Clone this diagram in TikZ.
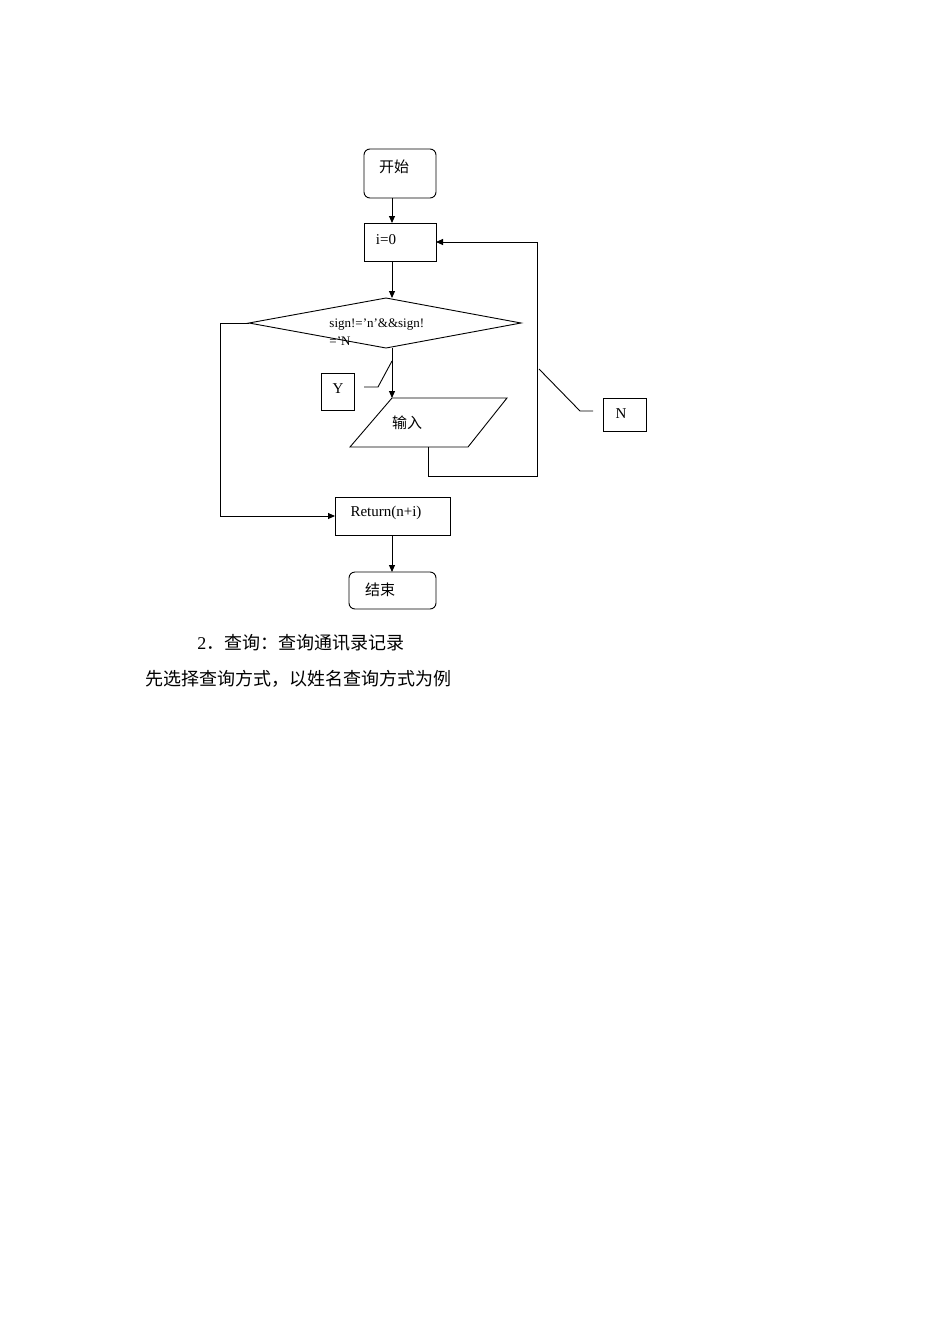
\documentclass[tikz,border=0pt]{standalone}
\usepackage{fontspec}
\setmainfont{Liberation Serif}
\newfontfamily\cjk{Noto Sans CJK SC}
\usetikzlibrary{arrows.meta}
\begin{document}
\begin{tikzpicture}[x=1pt,y=-1pt,line width=0.9pt,
  arr/.style={-{Triangle[length=7pt,width=6pt]}},
  txt/.style={inner sep=0,font=\fontsize{15}{17}\selectfont}]
\useasboundingbox (0,0) rectangle (950,1344);
\draw[rounded corners=6] (364,149) rectangle (436,198); \node[txt] (start) at (394,167) {\cjk 开始};
\coordinate (sb) at (392,198);
\draw (364,223) rectangle (436,261); \node[txt] (i0) at (386,240) {i=0};
\draw[arr] (sb) -- (392,223);
\draw[arr] (392,261) -- (392,298);
\draw (249,323) -- (386,298) -- (521,323) -- (386,348) -- cycle;
\node[txt,font=\fontsize{13}{15}\selectfont,anchor=west] (cond) at (329,325) {sign!='n'\&\&sign!};
\node[txt,font=\fontsize{13}{15}\selectfont,anchor=west] (cond2) at (329,341) {='N};
\draw[arr] (392,348) -- (392,398);
\draw (392,398) -- (507,398) -- (468,447) -- (350,447) -- cycle;
\node[txt] (in) at (407,423) {\cjk 输入};
\draw[arr] (428,447) -- (428,476) -- (537,476) -- (537,242) -- (436,242);
\draw (321,373) rectangle (354,410); \node[txt] (Y) at (338,389) {Y};
\draw (364,387) -- (378,387) -- (392,361);
\draw (603,398) rectangle (646,431); \node[txt] (N) at (621,414) {N};
\draw (593,411) -- (580,411) -- (539,369);
\draw[arr] (249,323) -- (220,323) -- (220,516) -- (335,516);
\draw (335,497) rectangle (450,535); \node[txt] (ret) at (386,513) {Return(n+i)};
\draw[arr] (392,535) -- (392,572);
\draw[rounded corners=6] (349,572) rectangle (436,609); \node[txt] (end) at (380,590) {\cjk 结束};
\node[txt,anchor=west,font=\fontsize{18}{20}\selectfont] (t1) at (197,643) {2\cjk．查询：查询通讯录记录};
\node[txt,anchor=west,font=\fontsize{18}{20}\selectfont] (t2) at (145,679) {\cjk 先选择查询方式，以姓名查询方式为例};
\end{tikzpicture}
\end{document}
